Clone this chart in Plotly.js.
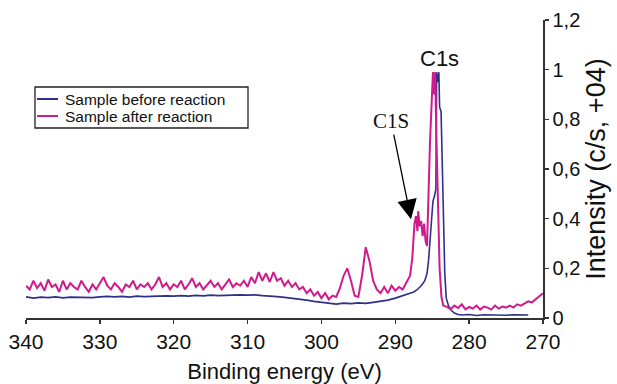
<!DOCTYPE html>
<html>
<head>
<meta charset="utf-8">
<script src="https://cdn.plot.ly/plotly-3.0.1.min.js"></script>
<style>html,body{margin:0;padding:0;background:#fff;}#chart{width:617px;height:384px;}</style>
</head>
<body>
<div id="chart"></div>
<script>
// Sample before reaction (blue)
const beforeE = [340,339,338,337,336,335,334,333,332,331,330,329,328,327,326,325,324,323,322,321,320,319,318,317,316,315,314,313,312,311,310,309,308,307,306,305,304,303,302,301,300,299,298,297,296,295,294,293,292,291,290,289,288,287.5,287,286.5,286,285.7,285.5,285.3,285.1,284.9,284.7,284.5,284.4,284.25,284.1,284.0,283.8,283.6,283.45,283.3,283.1,282.8,282.4,282,281.5,281,280,279,278,277,276,275,274,273,272];
const beforeI = [.085,.08,.084,.082,.085,.081,.084,.083,.085,.082,.085,.087,.085,.087,.084,.088,.086,.088,.087,.089,.088,.09,.088,.091,.089,.092,.09,.092,.091,.093,.092,.093,.09,.089,.086,.083,.08,.076,.072,.067,.063,.058,.056,.06,.058,.061,.059,.063,.066,.072,.08,.09,.1,.105,.115,.13,.15,.18,.23,.31,.4,.47,.49,.52,.99,.95,.99,.85,.83,.6,.42,.18,.08,.05,.03,.02,.014,.012,.014,.01,.013,.012,.013,.011,.013,.012,.012];

// Sample after reaction (magenta)
const afterE = [340,339.5,339,338.5,338,337.5,337,336.5,336,335.5,335,334.5,334,333.5,333,332.5,332,331.5,331,330.5,330,329.5,329,328.5,328,327.5,327,326.5,326,325.5,325,324.5,324,323.5,323,322.5,322,321.5,321,320.5,320,319.5,319,318.5,318,317.5,317,316.5,316,315.5,315,314.5,314,313.5,313,312.5,312,311.5,311,310.5,310,309.5,309,308.5,308,307.5,307,306.5,306,305.5,305,304.5,304,303.5,303,302.5,302,301.5,301,300.5,300,299.5,299,298.5,298,297.5,297,296.5,296,295.5,295,294.5,294,293.5,293,292.5,292,291.5,291,290.5,290,289.5,289,288.5,288,287.7,287.4,287.2,287.0,286.9,286.7,286.5,286.3,286.1,285.9,285.7,285.55,285.3,285.1,284.9,284.75,284.6,284.45,284.25,284.0,283.75,283.5,283,282.5,282,281.5,281,280.5,280,279.5,279,278.5,278,277.5,277,276.5,276,275.5,275,274.5,274,273.5,273,272.5,272,271.5,271,270.5,270];
const afterI = [.13,.115,.15,.12,.14,.11,.155,.125,.135,.105,.15,.115,.14,.125,.115,.15,.125,.105,.135,.115,.14,.165,.13,.115,.14,.125,.105,.135,.125,.15,.115,.135,.125,.14,.115,.135,.165,.125,.14,.115,.135,.125,.15,.115,.135,.16,.125,.14,.115,.135,.15,.125,.14,.115,.135,.155,.125,.14,.13,.15,.125,.165,.14,.185,.15,.18,.145,.185,.15,.16,.13,.15,.125,.14,.115,.125,.1,.115,.09,.105,.08,.1,.075,.09,.085,.12,.17,.2,.15,.09,.085,.17,.285,.23,.15,.115,.1,.125,.1,.13,.11,.125,.115,.145,.17,.24,.38,.41,.35,.43,.37,.39,.33,.38,.31,.29,.5,.71,.85,.99,.9,.99,.75,.45,.2,.085,.05,.045,.035,.05,.04,.055,.035,.045,.038,.05,.034,.046,.042,.034,.05,.038,.046,.042,.05,.042,.055,.05,.06,.067,.063,.075,.085,.1];

const seriesNames = ['Sample before reaction', 'Sample after reaction'];
const seriesColors = ['#2f2f8c', '#cf1b8c'];
const xTickVals = [340,330,320,310,300,290,280,270];
const yTickVals = [0,0.2,0.4,0.6,0.8,1,1.2];

const FONT = '"Liberation Sans", Arial, sans-serif';
const SERIF = '"Liberation Serif", "Times New Roman", serif';

const traces = [
  {x: beforeE, y: beforeI, name: seriesNames[0], type: 'scatter', mode: 'lines',
   line: {color: seriesColors[0], width: 1.6}},
  {x: afterE, y: afterI, name: seriesNames[1], type: 'scatter', mode: 'lines',
   line: {color: seriesColors[1], width: 2}}
];

// plot area in pixels: left 26, right 543, top 20, bottom 318
const PX = p => (p - 26) / 517;
const PY = p => 1 - (p - 20) / 298;

const legendShapes = [
  {type: 'rect', xref: 'paper', yref: 'paper', x0: PX(35), x1: PX(248), y0: PY(87), y1: PY(128),
   line: {color: '#222', width: 1.3}, fillcolor: '#fff', layer: 'above'}
];
const legendAnn = [];
seriesNames.forEach((n, i) => {
  const yy = PY(99 + i * 17);
  legendShapes.push({type: 'line', xref: 'paper', yref: 'paper', x0: PX(37), x1: PX(58), y0: yy, y1: yy,
    line: {color: seriesColors[i], width: 2}, layer: 'above'});
  legendAnn.push({xref: 'paper', yref: 'paper', x: PX(63), y: yy, text: n, showarrow: false,
    xanchor: 'left', yanchor: 'middle', font: {family: FONT, size: 15.5, color: '#111'}});
});

const layout = {
  width: 617, height: 384,
  margin: {l: 26, r: 74, t: 20, b: 66},
  paper_bgcolor: '#fff', plot_bgcolor: '#fff',
  separators: ',.',
  font: {family: FONT, color: '#111', size: 20},
  showlegend: false,
  xaxis: {range: [340, 270], tickvals: xTickVals, showgrid: false, zeroline: false,
    showline: true, linecolor: '#333', linewidth: 1.5, ticks: 'outside', ticklen: 4,
    tickcolor: '#333', tickwidth: 1.5, tickfont: {family: FONT, size: 21},
    title: {text: 'Binding energy (eV)', font: {family: FONT, size: 22}, standoff: 12}},
  yaxis: {range: [0, 1.2], tickvals: yTickVals, side: 'right', showgrid: false, zeroline: false,
    showline: true, linecolor: '#333', linewidth: 1.5, ticks: 'outside', ticklen: 4,
    tickcolor: '#333', tickwidth: 1.5, tickfont: {family: FONT, size: 20},
    title: {text: 'Intensity (c/s, +04)', font: {family: FONT, size: 27}, standoff: 7}},
  shapes: legendShapes,
  annotations: [
    {x: 283.95, y: 1.046, text: 'C1s', showarrow: false, xanchor: 'center', yanchor: 'middle',
     font: {family: FONT, size: 22, color: '#111'}},
    {x: 287.87, y: 0.398, ax: -20, ay: -98, text: 'C1S', showarrow: true,
     arrowhead: 2, arrowsize: 3, arrowwidth: 1.3, arrowcolor: '#000',
     font: {family: SERIF, size: 21, color: '#111'}}
  ].concat(legendAnn)
};

Plotly.newPlot('chart', traces, layout, {displayModeBar: false, staticPlot: true});
</script>
</body>
</html>
